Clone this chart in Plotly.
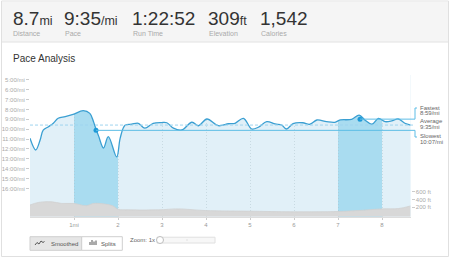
import plotly.graph_objects as go

W, H = 452, 260

# ---------------- data ----------------
stat_values = ["8.7", "9:35", "1:22:52", "309", "1,542"]
stat_units = ["mi", "/mi", "", "ft", ""]
stat_labels = ["Distance", "Pace", "Run Time", "Elevation", "Calories"]

pace_miles = [0.00, 0.13, 0.23, 0.30, 0.42, 0.53, 0.64, 0.80, 0.98, 1.21, 1.36, 1.44,
              1.50, 1.56, 1.67, 1.78, 1.97, 2.05, 2.16, 2.31, 2.46, 2.61, 2.80, 2.99,
              3.11, 3.26, 3.45, 3.68, 3.83, 4.02, 4.28, 4.51, 4.66, 4.85, 5.04, 5.19,
              5.38, 5.57, 5.72, 5.83, 5.98, 6.20, 6.36, 6.52, 6.74, 6.93, 7.05, 7.31,
              7.48, 7.61, 7.77, 7.92, 8.07, 8.22, 8.37, 8.52, 8.65]
pace_minutes = [10.92, 12.10, 11.10, 10.10, 9.75, 9.40, 8.90, 8.73, 8.50, 8.13, 8.40, 9.20,
                10.00, 10.70, 11.90, 10.75, 12.80, 10.90, 9.60, 9.50, 9.40, 9.90, 9.40, 9.33,
                9.35, 9.90, 10.08, 9.30, 9.65, 8.97, 9.65, 9.45, 9.40, 8.90, 9.98, 9.80,
                9.24, 9.47, 9.58, 9.98, 9.43, 9.35, 9.50, 9.07, 9.24, 9.30, 9.07, 9.00,
                8.57, 9.07, 9.50, 8.90, 9.24, 9.17, 8.97, 9.40, 9.58]

elev_miles = [0.00, 0.19, 0.49, 0.72, 1.00, 1.28, 1.44, 1.70, 1.89, 2.00, 2.23, 2.92,
              3.37, 3.98, 5.04, 5.95, 7.00, 7.46, 8.00, 8.37, 8.65]
elev_feet = [260, 326, 344, 300, 300, 242, 300, 285, 235, 148, 133, 133,
             158, 115, 97, 82, 90, 115, 158, 166, 235]

split_band_starts = [1, 7]          # highlighted splits (mile 2 slowest, mile 8 fastest)
fastest_pace = 8 + 59 / 60
average_pace = 9 + 35 / 60
slowest_pace = 10 + 7 / 60
fastest_mile = 7.5
slowest_mile = 1.5
pace_notes = [("Fastest", "8:59/mi"), ("Average", "9:35/mi"), ("Slowest", "10:07/mi")]

pace_ticks = list(range(5, 17))
pace_tick_text = [f"{m}:00/mi" for m in pace_ticks]
mile_ticks = [1, 2, 3, 4, 5, 6, 7, 8]
mile_tick_text = ["1mi", "2", "3", "4", "5", "6", "7", "8"]
elev_ticks = [200, 400, 600]
elev_tick_text = ["200 ft", "400 ft", "600 ft"]

# ---------------- geometry ----------------
PL, PR, PT, PB = 30, 410.6, 75, 216.7
X_RANGE = [0, 8.65]
PACE_RANGE = [18.84, 4.525]
ELEV_RANGE = [-46, 3656]

def px(x):
    return x / W

def py(y):
    return 1 - y / H

DOM_X = [px(PL), px(PR)]
DOM_Y = [py(PB), py(PT)]

def mile_x(m):
    return DOM_X[0] + (m - X_RANGE[0]) / (X_RANGE[1] - X_RANGE[0]) * (DOM_X[1] - DOM_X[0])

def pace_y(p):
    return DOM_Y[0] + (PACE_RANGE[0] - p) / (PACE_RANGE[0] - PACE_RANGE[1]) * (DOM_Y[1] - DOM_Y[0])

LINE_BLUE = "#3a9fd2"
MARK_BLUE = "#1e9ad8"
SPLIT_BLUE = "#5dbde6"
LIGHT_FILL = "#e1f0f8"
BAND_FILL = "#a9dcf0"
FONT = "Liberation Sans, Arial, sans-serif"

fig = go.Figure()

# white mask above the pace line
fig.add_trace(go.Scatter(x=pace_miles, y=[PACE_RANGE[1]] * len(pace_miles), mode="lines",
                         line=dict(width=0, color="white"), hoverinfo="skip", showlegend=False))
fig.add_trace(go.Scatter(x=pace_miles, y=pace_minutes, mode="lines",
                         line=dict(color=LINE_BLUE, width=1.3, shape="spline", smoothing=1),
                         fill="tonexty", fillcolor="white", hoverinfo="skip", showlegend=False))
# fastest / slowest markers
fig.add_trace(go.Scatter(x=[slowest_mile, fastest_mile], y=[slowest_pace, fastest_pace],
                         mode="markers", marker=dict(color=MARK_BLUE, size=5),
                         hoverinfo="skip", showlegend=False))
# elevation
fig.add_trace(go.Scatter(x=elev_miles, y=[ELEV_RANGE[0]] * len(elev_miles), yaxis="y2",
                         mode="lines", line=dict(width=0, color="#d6d6d6"),
                         hoverinfo="skip", showlegend=False))
fig.add_trace(go.Scatter(x=elev_miles, y=elev_feet, yaxis="y2", mode="lines",
                         line=dict(width=0.8, color="#d0d0d0", shape="spline", smoothing=1),
                         fill="tonexty", fillcolor="#d8d8d8", hoverinfo="skip", showlegend=False))

shapes = []
# card and header
shapes.append(dict(type="rect", xref="paper", yref="paper", x0=px(2), x1=px(448), y0=py(2), y1=py(42),
                   fillcolor="#f5f5f5", line=dict(width=0), layer="below"))
shapes.append(dict(type="line", xref="paper", yref="paper", x0=px(2), x1=px(448), y0=py(42), y1=py(42),
                   line=dict(color="#e2e2e2", width=1)))
shapes.append(dict(type="rect", xref="paper", yref="paper", x0=px(1.5), x1=px(448.5), y0=py(1), y1=py(256.5),
                   fillcolor="rgba(0,0,0,0)", line=dict(color="#e0e0e0", width=1)))
# highlighted split bands
for s in split_band_starts:
    shapes.append(dict(type="rect", xref="x", yref="paper", x0=s, x1=s + 1, y0=DOM_Y[0], y1=DOM_Y[1],
                       fillcolor=BAND_FILL, line=dict(width=0), layer="below"))
# average dashed
shapes.append(dict(type="line", xref="paper", yref="paper", x0=mile_x(0), x1=px(414),
                   y0=pace_y(average_pace), y1=pace_y(average_pace),
                   line=dict(color="#9fd4ef", width=1, dash="3px,2px")))
# fastest line + bracket
fy = pace_y(fastest_pace)
shapes.append(dict(type="line", xref="paper", yref="paper", x0=mile_x(fastest_mile), x1=px(415),
                   y0=fy, y1=fy, line=dict(color=SPLIT_BLUE, width=1)))
shapes.append(dict(type="path", xref="paper", yref="paper",
                   path=f"M {px(415)} {fy} L {px(415)} {py(108)} L {px(417)} {py(108)}",
                   line=dict(color=SPLIT_BLUE, width=1)))
# slowest line + bracket
sy = pace_y(slowest_pace)
shapes.append(dict(type="line", xref="paper", yref="paper", x0=mile_x(slowest_mile), x1=px(415),
                   y0=sy, y1=sy, line=dict(color=SPLIT_BLUE, width=1)))
shapes.append(dict(type="path", xref="paper", yref="paper",
                   path=f"M {px(415)} {sy} L {px(415)} {py(137)} L {px(417)} {py(137)}",
                   line=dict(color=SPLIT_BLUE, width=1)))
# buttons
shapes.append(dict(type="rect", xref="paper", yref="paper", x0=px(30), x1=px(81.7), y0=py(236.7), y1=py(250.3),
                   fillcolor="#e6e6e6", line=dict(color="#cfcfcf", width=1)))
shapes.append(dict(type="rect", xref="paper", yref="paper", x0=px(81.7), x1=px(122.3), y0=py(236.7), y1=py(250.3),
                   fillcolor="#ffffff", line=dict(color="#cfcfcf", width=1)))
# smoothed icon
icon_pts = [(35, 245), (37, 242.5), (39, 244), (41, 241), (43, 242.5), (44.5, 241.5)]
shapes.append(dict(type="path", xref="paper", yref="paper",
                   path="M " + " L ".join(f"{px(a)} {py(b)}" for a, b in icon_pts),
                   line=dict(color="#555", width=1)))
# splits icon
for bx, top in [(90, 242), (92, 240), (94, 241.5), (96, 240.5)]:
    shapes.append(dict(type="line", xref="paper", yref="paper", x0=px(bx), x1=px(bx), y0=py(245), y1=py(top),
                       line=dict(color="#555", width=1)))
# zoom slider
shapes.append(dict(type="rect", xref="paper", yref="paper", x0=px(157), x1=px(215), y0=py(237.2), y1=py(243),
                   fillcolor="#f7f7f7", line=dict(color="#e0e0e0", width=1)))
shapes.append(dict(type="line", xref="paper", yref="paper", x0=px(186.5), x1=px(187.5), y0=py(240), y1=py(240),
                   line=dict(color="#cccccc", width=1)))
shapes.append(dict(type="circle", xref="paper", yref="paper", x0=px(156.5), x1=px(163.5), y0=py(236.5), y1=py(243.5),
                   fillcolor="white", line=dict(color="#bdbdbd", width=1)))

annotations = []
header_x = [10.8, 62.4, 130.2, 206.4, 258.4]
for xv, v, u, lab in zip(header_x, stat_values, stat_units, stat_labels):
    txt = v + (f"<span style='font-size:12.5px'>{u}</span>" if u else "")
    annotations.append(dict(x=px(xv), y=py(18.6), xref="paper", yref="paper", text=txt, showarrow=False,
                            xanchor="left", yanchor="middle", font=dict(size=19, color="#333", family=FONT)))
    annotations.append(dict(x=px(xv + 0.4), y=py(33.6), xref="paper", yref="paper", text=lab, showarrow=False,
                            xanchor="left", yanchor="middle", font=dict(size=7, color="#aaa", family=FONT)))
annotations.append(dict(x=px(10.8), y=py(58.8), xref="paper", yref="paper", text="Pace Analysis", showarrow=False,
                        xanchor="left", yanchor="middle", font=dict(size=10, color="#333", family=FONT)))
note_y = [(107.8, 113.4), (121, 126.7), (136, 141.7)]
for (t1, t2), (y1, y2) in zip(pace_notes, note_y):
    for t, yy in [(t1, y1), (t2, y2)]:
        annotations.append(dict(x=px(417.5), y=py(yy), xref="paper", yref="paper", text=t, showarrow=False,
                                xanchor="left", yanchor="middle", font=dict(size=6, color="#666", family=FONT)))
annotations.append(dict(x=px(48.5), y=py(243.5), xref="paper", yref="paper", text="Smoothed", showarrow=False,
                        xanchor="left", yanchor="middle", font=dict(size=6, color="#555", family=FONT)))
annotations.append(dict(x=px(98.5), y=py(243.5), xref="paper", yref="paper", text="Splits", showarrow=False,
                        xanchor="left", yanchor="middle", font=dict(size=6, color="#555", family=FONT)))
annotations.append(dict(x=px(127.5), y=py(240.3), xref="paper", yref="paper", text="Zoom: 1x", showarrow=False,
                        xanchor="left", yanchor="middle", font=dict(size=6, color="#666", family=FONT)))

fig.update_layout(
    width=W, height=H, autosize=False, margin=dict(l=0, r=0, t=0, b=0, pad=0),
    paper_bgcolor="white", plot_bgcolor=LIGHT_FILL, showlegend=False,
    font=dict(family=FONT),
    xaxis=dict(domain=DOM_X, range=X_RANGE, tickvals=mile_ticks, ticktext=mile_tick_text,
               ticks="outside", ticklen=2, tickcolor="#cccccc", showgrid=True, griddash="1px,2px",
               gridcolor="rgba(170,190,200,0.45)", gridwidth=1, showline=True, linecolor="#dddddd",
               zeroline=False, tickfont=dict(size=6, color="#999"), fixedrange=True),
    yaxis=dict(domain=DOM_Y, range=PACE_RANGE, tickvals=pace_ticks, ticktext=pace_tick_text,
               ticks="outside", ticklen=3, tickcolor="#cccccc", showgrid=False, zeroline=False,
               tickfont=dict(size=6, color="#aaa"), fixedrange=True),
    yaxis2=dict(overlaying="y", side="right", anchor="x", range=ELEV_RANGE, tickvals=elev_ticks,
                ticktext=elev_tick_text, ticks="outside", ticklen=3, tickcolor="#cccccc",
                showgrid=False, zeroline=False, tickfont=dict(size=6, color="#aaa"), fixedrange=True),
    shapes=shapes, annotations=annotations,
)

fig.write_html("out.html", config={"displayModeBar": False})
